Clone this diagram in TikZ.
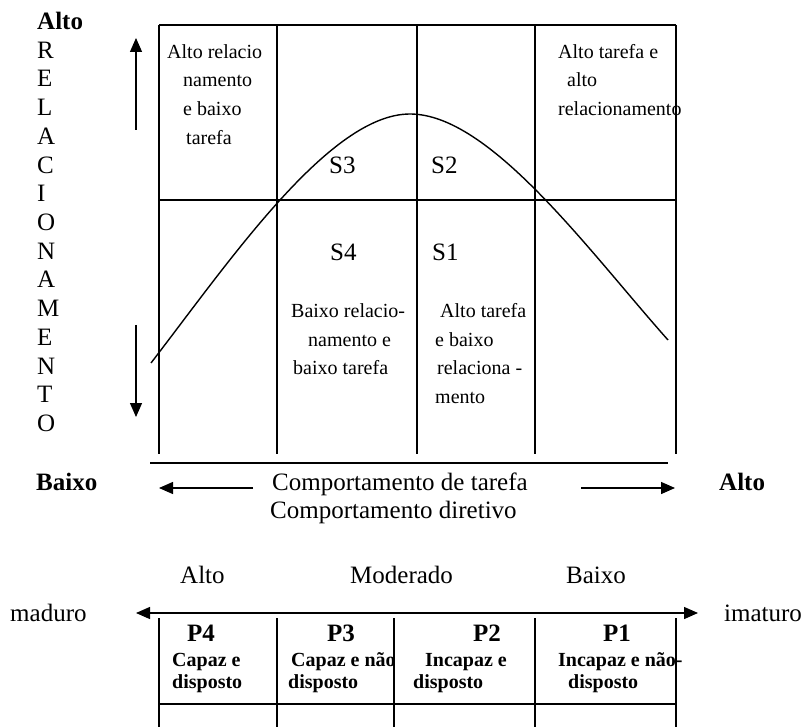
\documentclass[tikz,border=0pt]{standalone}
\usepackage{fontspec}
\setmainfont{Liberation Serif}
\usetikzlibrary{arrows.meta}
\begin{document}
\begin{tikzpicture}[x=1pt,y=-1pt,
  big/.style={font=\fontsize{25}{28.7}\selectfont, inner sep=0pt, anchor=base west},
  bigb/.style={font=\bfseries\fontsize{25}{28.7}\selectfont, inner sep=0pt, anchor=base west},
  cell/.style={font=\fontsize{20}{24}\selectfont, inner sep=0pt, anchor=base west},
  tab/.style={font=\bfseries\fontsize{20}{22}\selectfont, inner sep=0pt, anchor=base west},
  tabp/.style={font=\bfseries\fontsize{25}{28}\selectfont, inner sep=0pt, anchor=base west},
  grid/.style={line width=1.4pt},
  tip/.style={-{Triangle[length=14pt,width=12pt]}},
  arr/.style={line width=1.4pt, tip},
]
\useasboundingbox (0,0) rectangle (806,727);

% vertical axis label
\node[bigb] (altoV) at (37,29.6) {Alto};
\foreach \ch [count=\k] in {R,E,L,A,C,I,O,N,A,M,E,N,T,O}
  \node[big] (v\k) at (37,29.6+28.7*\k) {\ch};

% axis arrows beside the label
\coordinate (upA) at (136,130);
\coordinate (upB) at (136,38);
\coordinate (dnA) at (136,325);
\coordinate (dnB) at (136,417);
\draw[arr] (upA) -- (upB);
\draw[arr] (dnA) -- (dnB);

% quadrant grid
\draw[grid] (159,25) -- (676,25);
\draw[grid] (159,200) -- (676,200);
\foreach \x in {159,277,417,535,676}
  \draw[grid] (\x,25) -- (\x,454);
\draw[grid] (150,463) -- (668,463);

% bell curve
\draw[line width=1.4pt] (151,363) .. controls (231,259) and (330,114) .. (410,114)
  .. controls (490,114) and (588,250) .. (668,340);

% quadrant texts
\node[cell] (q1a) at (167,58.3) {Alto relacio};
\node[cell] (q1b) at (183,87) {namento};
\node[cell] (q1c) at (183,115.7) {e baixo};
\node[cell] (q1d) at (186,144.4) {tarefa};

\node[cell] (q2a) at (558,58.3) {Alto tarefa e};
\node[cell] (q2b) at (567,87) {alto};
\node[cell] (q2c) at (558,115.7) {relacionamento};

\node[big] (s3) at (329,173.1) {S3};
\node[big] (s2) at (431,173.1) {S2};
\node[big] (s4) at (330,260.2) {S4};
\node[big] (s1) at (432,260.2) {S1};

\node[cell] (q4a) at (291,317.3) {Baixo relacio-};
\node[cell] (q4b) at (308,346) {namento e};
\node[cell] (q4c) at (293,374.7) {baixo tarefa};

\node[cell] (q3a) at (440,317.3) {Alto tarefa};
\node[cell] (q3b) at (435,346) {e baixo};
\node[cell] (q3c) at (437,374.7) {relaciona -};
\node[cell] (q3d) at (435,403.4) {mento};

% horizontal axis
\node[bigb] (baixoH) at (36,490) {Baixo};
\node[bigb] (altoH) at (719,490) {Alto};
\node[big] (ct) at (272,490) {Comportamento de tarefa};
\node[big] (cd) at (270,518.7) {Comportamento diretivo};
\coordinate (lA) at (253,488);
\coordinate (lB) at (159,488);
\coordinate (rA) at (581,488);
\coordinate (rB) at (675,488);
\draw[arr] (lA) -- (lB);
\draw[arr] (rA) -- (rB);

% maturity scale
\node[big] (mAlto) at (180,583.3) {Alto};
\node[big] (mMod) at (350,583.3) {Moderado};
\node[big] (mBaixo) at (566,583.3) {Baixo};
\node[big] (maduro) at (10,621) {maduro};
\node[big] (imaturo) at (724,621) {imaturo};
\coordinate (mL) at (136,613);
\coordinate (mR) at (698,613);
\draw[line width=1.4pt, {Triangle[length=14pt,width=12pt]}-{Triangle[length=14pt,width=12pt]}] (mL) -- (mR);

% maturity table
\foreach \x in {159,277,394,535,676}
  \draw[grid] (\x,618) -- (\x,727);
\draw[grid] (159,704) -- (676,704);

\node[tabp] (p4) at (187,641.7) {P4};
\node[tabp] (p3) at (327,641.7) {P3};
\node[tabp] (p2) at (473,641.7) {P2};
\node[tabp] (p1) at (603,641.7) {P1};

\node[tab] (p4a) at (172,666) {Capaz e};
\node[tab] (p4b) at (172,688.3) {disposto};
\node[tab] (p3a) at (291,666) {Capaz e não};
\node[tab] (p3b) at (288,688.3) {disposto};
\node[tab] (p2a) at (425,666) {Incapaz e};
\node[tab] (p2b) at (413,688.3) {disposto};
\node[tab] (p1a) at (558,666) {Incapaz e não-};
\node[tab] (p1b) at (568,688.3) {disposto};
\end{tikzpicture}
\end{document}
